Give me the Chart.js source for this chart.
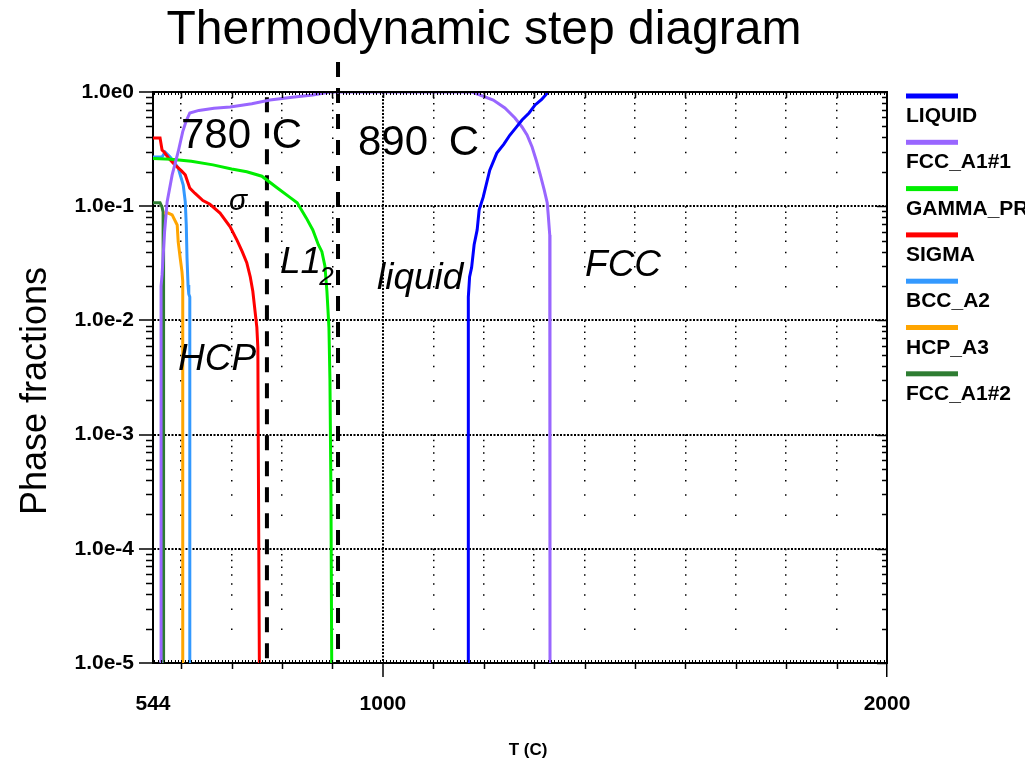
<!DOCTYPE html>
<html>
<head>
<meta charset="utf-8">
<script src="https://cdn.jsdelivr.net/npm/chart.js@4"></script>
<style>
  html, body { margin: 0; padding: 0; background: #fff; }
  #wrap { width: 1025px; height: 765px; position: relative; }
</style>
</head>
<body>
<div id="wrap"><canvas id="chart"></canvas></div>
<script>
// phase fractions (T in C, fraction on a log axis)
const liquidT = [1169, 1169.5, 1172, 1176, 1181, 1187, 1191, 1199, 1212, 1226, 1240, 1252, 1266, 1276, 1290, 1302, 1315, 1328];
const liquidF = [1e-5, 0.016, 0.024, 0.029, 0.046, 0.062, 0.093, 0.12, 0.207, 0.292, 0.35, 0.42, 0.5, 0.569, 0.655, 0.77, 0.86, 1.0];

const fcc1T = [560, 560, 562, 567, 572, 582, 594, 603, 610, 617, 635, 665, 697, 740, 776, 820, 861, 881, 895, 1177, 1219, 1242, 1262, 1276, 1286, 1296, 1304, 1312, 1320, 1326, 1328, 1331, 1331.5, 1331.5];
const fcc1F = [1e-5, 0.02, 0.025, 0.06, 0.109, 0.188, 0.3, 0.45, 0.56, 0.655, 0.69, 0.72, 0.739, 0.79, 0.851, 0.9, 0.941, 0.975, 1.0, 1.0, 0.851, 0.724, 0.592, 0.494, 0.42, 0.33, 0.254, 0.19, 0.139, 0.107, 0.084, 0.056, 0.05, 1e-5];

const gammaT = [544, 580, 620, 663, 700, 730, 760, 790, 815, 830, 848, 861, 872, 879, 885, 889, 893, 895, 897, 898.5];
const gammaF = [0.262, 0.258, 0.247, 0.23, 0.212, 0.2, 0.183, 0.145, 0.12, 0.107, 0.079, 0.062, 0.046, 0.04, 0.03, 0.018, 0.0087, 0.003, 0.0003, 1e-5];

const sigmaT = [544, 558, 562, 566, 576, 588, 600, 608, 617, 627, 643, 657, 677, 697, 711, 721, 730, 737, 742, 750, 752, 752.5, 755];
const sigmaF = [0.396, 0.396, 0.311, 0.298, 0.26, 0.229, 0.205, 0.188, 0.144, 0.13, 0.112, 0.104, 0.087, 0.066, 0.05, 0.04, 0.032, 0.024, 0.018, 0.0087, 0.0058, 0.0016, 1e-5];

const bccT = [544, 562, 568, 578, 594, 604, 608, 610, 611.5, 613.5, 615, 617, 617];
const bccF = [0.27, 0.27, 0.298, 0.27, 0.216, 0.153, 0.109, 0.0685, 0.035, 0.0204, 0.017, 0.016, 1e-5];

const hcpT = [566, 574, 582, 592, 594, 598, 601.5, 603, 603];
const hcpF = [0.087, 0.087, 0.084, 0.0685, 0.0486, 0.035, 0.0266, 0.022, 1e-5];

const fcc2T = [544, 558, 562, 564, 565, 565];
const fcc2F = [0.107, 0.107, 0.098, 0.089, 0.075, 1e-5];

// dashed marker lines (labelled 780 C and 890 C in the figure)
const markerT = [770, 911];
const markerTop = [0.9, 1.83];

// axis ticks
const xTickValues = [544, 600, 700, 800, 900, 1000, 1100, 1200, 1300, 1400, 1500, 1600, 1700, 1800, 1900, 2000];
const xLabelValues = [544, 1000, 2000];
const xLabelText = ['544', '1000', '2000'];
const yDecadeValues = [1, 0.1, 0.01, 0.001, 0.0001, 0.00001];
const yDecadeLabels = ['1.0e0', '1.0e-1', '1.0e-2', '1.0e-3', '1.0e-4', '1.0e-5'];

// text notes placed in data coordinates
const noteText = ['780 C', '890 C', '\u03C3', 'L1', 'liquid', 'FCC', 'HCP'];
const noteT = [599.5, 950.6, 694.8, 795.9, 988.3, 1401, 593.6];
const noteF = [0.323, 0.281, 0.0926, 0.026, 0.0188, 0.0245, 0.00368];

const FONT = "'Liberation Sans', Arial, sans-serif";

const toPoints = (t, f) => t.map((v, i) => ({ x: v, y: f[i] }));

const same = (a, b) => Math.abs(a / b - 1) < 1e-6;
const isDecade = v => yDecadeValues.some(d => same(v, d));
const yMinorValues = [];
for (let e = -5; e < 0; e++) {
  for (let k = 2; k <= 9; k++) yMinorValues.push(k * Math.pow(10, e));
}

// dots on vertical grid lines fall where the log minor ticks are
function logDots(chart) {
  const y = chart.scales.y;
  if (!y) return [1.5, 8];
  const top = y.getPixelForValue(1);
  const pos = [];
  for (let k = 10; k >= 1; k--) pos.push(y.getPixelForValue(k / 10) - top);
  const dash = [];
  for (let i = 0; i < 9; i++) dash.push(1.5, Math.max(0.5, pos[i + 1] - pos[i] - 1.5));
  return dash;
}

const series = [
  { label: 'LIQUID', color: '#0000ff', t: liquidT, f: liquidF },
  { label: 'FCC_A1#1', color: '#9966ff', t: fcc1T, f: fcc1F },
  { label: 'GAMMA_PRIME', color: '#00ee00', t: gammaT, f: gammaF },
  { label: 'SIGMA', color: '#ff0000', t: sigmaT, f: sigmaF },
  { label: 'BCC_A2', color: '#3399ff', t: bccT, f: bccF },
  { label: 'HCP_A3', color: '#ffa500', t: hcpT, f: hcpF },
  { label: 'FCC_A1#2', color: '#2e7d32', t: fcc2T, f: fcc2F }
];

const datasets = series.map(s => ({
  label: s.label,
  data: toPoints(s.t, s.f),
  borderColor: s.color,
  backgroundColor: s.color,
  borderWidth: 3,
  pointRadius: 0,
  tension: 0,
  fill: false
}));

markerT.forEach((t, i) => {
  datasets.push({
    label: 'marker',
    marker: true,
    data: [{ x: t, y: markerTop[i] }, { x: t, y: 1e-5 }],
    borderColor: '#000',
    borderWidth: 4,
    borderDash: [15, 11],
    pointRadius: 0,
    fill: false,
    clip: false
  });
});

const extras = {
  id: 'extras',
  afterDraw(chart) {
    const { ctx, chartArea: a, scales: { x, y } } = chart;
    ctx.save();
    ctx.strokeStyle = '#000';

    // top and right frame
    ctx.lineWidth = 2;
    ctx.beginPath();
    ctx.moveTo(a.left - 1, a.top);
    ctx.lineTo(a.right, a.top);
    ctx.lineTo(a.right, a.bottom + 1);
    ctx.stroke();

    // x ticks: short ones below, ticks hanging from the top, fine ticks inside
    ctx.lineWidth = 1.5;
    ctx.beginPath();
    xTickValues.forEach(t => {
      if (t === 544 || t === 2000) return;
      const px = Math.round(x.getPixelForValue(t)) + 0.5;
      if (t !== 1000) { ctx.moveTo(px, a.bottom); ctx.lineTo(px, a.bottom + 6); }
      ctx.moveTo(px, a.top); ctx.lineTo(px, a.top + 6);
    });
    ctx.stroke();
    ctx.lineWidth = 1;
    ctx.beginPath();
    for (let t = 600 - 100 / 15 * 8; t < 2000; t += 100 / 15) {
      if (t <= 544) continue;
      const px = Math.round(x.getPixelForValue(t)) + 0.5;
      ctx.moveTo(px, a.bottom); ctx.lineTo(px, a.bottom - 3);
      ctx.moveTo(px, a.top); ctx.lineTo(px, a.top + 3);
    }
    ctx.stroke();

    // y minor ticks: outside on the left, inside on the right
    ctx.lineWidth = 1.5;
    ctx.beginPath();
    yMinorValues.forEach(v => {
      const py = Math.round(y.getPixelForValue(v)) + 0.5;
      ctx.moveTo(a.left - 7, py); ctx.lineTo(a.left, py);
      ctx.moveTo(a.right, py); ctx.lineTo(a.right - 5, py);
    });
    yDecadeValues.forEach(v => {
      const py = Math.round(y.getPixelForValue(v)) + 0.5;
      ctx.moveTo(a.right, py); ctx.lineTo(a.right - 10, py);
    });
    ctx.stroke();

    // legend: coloured bar above each name
    ctx.fillStyle = '#000';
    ctx.textAlign = 'left';
    ctx.textBaseline = 'alphabetic';
    ctx.font = `bold 21px ${FONT}`;
    const lx = a.right + 19;
    chart.data.datasets.filter(d => !d.marker).forEach((d, i) => {
      const ly = a.top + 4 + i * 46.3;
      ctx.fillStyle = d.borderColor;
      ctx.fillRect(lx, ly - 2.5, 52, 5);
      ctx.fillStyle = '#000';
      ctx.fillText(d.label, lx, ly + 26);
    });

    // title and axis titles
    ctx.textAlign = 'center';
    ctx.font = `48px ${FONT}`;
    ctx.fillText('Thermodynamic step diagram', 484, 44);
    ctx.font = `bold 17px ${FONT}`;
    ctx.fillText('T (C)', 528, 755);
    ctx.save();
    ctx.translate(46, 391);
    ctx.rotate(-Math.PI / 2);
    ctx.font = `36px ${FONT}`;
    ctx.fillText('Phase fractions', 0, 0);
    ctx.restore();

    // notes on the plot
    ctx.textAlign = 'left';
    noteText.forEach((txt, i) => {
      const px = x.getPixelForValue(noteT[i]);
      const py = y.getPixelForValue(noteF[i]);
      if (i < 2) {
        ctx.font = `42px ${FONT}`;
        ctx.wordSpacing = '9px';
      } else if (txt === '\u03C3') {
        ctx.font = `italic 30px ${FONT}`;
        ctx.wordSpacing = '0px';
      } else {
        ctx.font = `italic 37px ${FONT}`;
        ctx.wordSpacing = '0px';
      }
      ctx.fillText(txt, px, py);
      if (txt === 'L1') {
        const w = ctx.measureText(txt).width;
        ctx.font = `italic 26px ${FONT}`;
        ctx.fillText('2', px + w - 2, py + 12);
      }
    });
    ctx.restore();
  }
};

new Chart(document.getElementById('chart'), {
  type: 'line',
  data: { datasets },
  plugins: [extras],
  options: {
    responsive: true,
    maintainAspectRatio: false,
    animation: false,
    devicePixelRatio: 1,
    events: [],
    layout: { padding: { top: 92, right: 138, bottom: 0, left: 0 } },
    plugins: {
      legend: { display: false },
      title: { display: false },
      tooltip: { enabled: false }
    },
    scales: {
      x: {
        type: 'linear',
        min: 544,
        max: 2000,
        afterBuildTicks: s => { s.ticks = xTickValues.map(v => ({ value: v })); },
        afterFit: s => { s.height = 102; },
        ticks: {
          autoSkip: false,
          maxRotation: 0,
          padding: 15,
          color: '#000',
          font: { family: FONT, size: 21, weight: 'bold' },
          callback: v => {
            const i = xLabelValues.indexOf(v);
            return i >= 0 ? xLabelText[i] : '';
          }
        },
        grid: {
          color: c => (c.tick && c.tick.value > 544 && c.tick.value < 2000) ? '#000' : 'rgba(0,0,0,0)',
          lineWidth: c => (c.tick && c.tick.value === 1000) ? 2 : 1.5,
          tickLength: 14,
          tickWidth: 1.5,
          tickColor: c => (c.tick && (c.tick.value === 1000 || c.tick.value === 2000)) ? '#000' : 'rgba(0,0,0,0)'
        },
        border: {
          color: '#000',
          width: 2,
          dash: c => (c.tick && c.tick.value === 1000) ? [2, 1.5] : logDots(c.chart)
        }
      },
      y: {
        type: 'logarithmic',
        min: 1e-5,
        max: 1,
        afterBuildTicks: s => {
          s.ticks = yDecadeValues.concat(yMinorValues).sort((p, q) => p - q).map(v => ({ value: v }));
        },
        afterFit: s => { s.width = 153; },
        ticks: {
          autoSkip: false,
          padding: 5,
          color: '#000',
          font: { family: FONT, size: 21, weight: 'bold' },
          callback: v => {
            const i = yDecadeValues.findIndex(d => same(v, d));
            return i >= 0 ? yDecadeLabels[i] : '';
          }
        },
        grid: {
          color: c => (c.tick && isDecade(c.tick.value) && c.tick.value < 1 && c.tick.value > 1e-5) ? '#000' : 'rgba(0,0,0,0)',
          lineWidth: 2,
          tickLength: 14,
          tickWidth: 1.5,
          tickColor: c => (c.tick && isDecade(c.tick.value)) ? '#000' : 'rgba(0,0,0,0)'
        },
        border: { color: '#000', width: 2, dash: [2, 1.5] }
      }
    }
  }
});
</script>
</body>
</html>
